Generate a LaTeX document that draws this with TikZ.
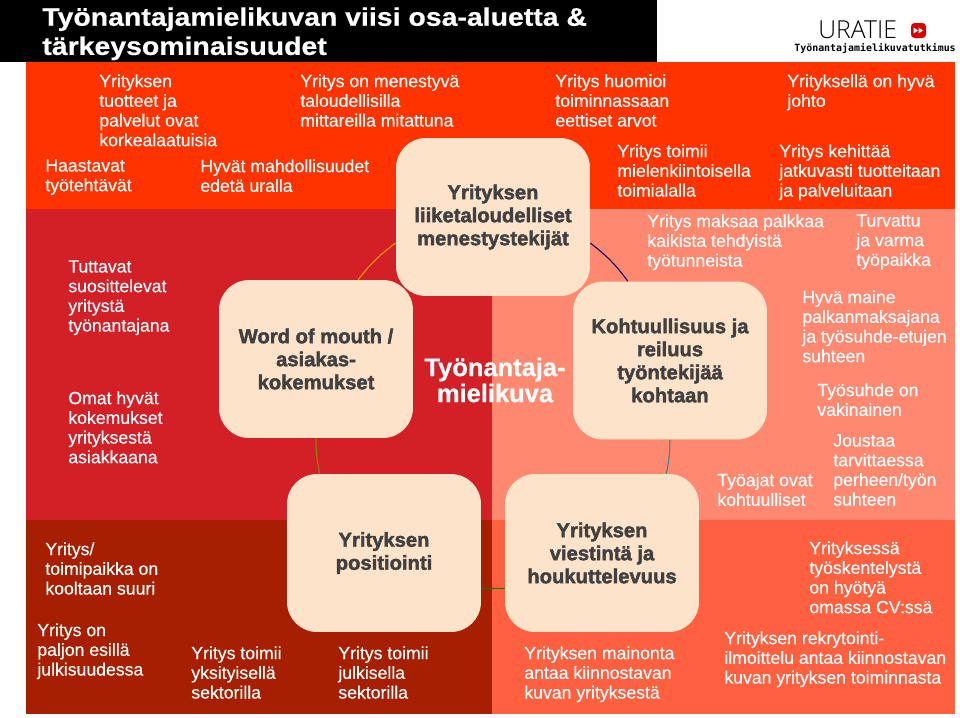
\documentclass[tikz,border=0pt]{standalone}
\usepackage{fontspec}
\setmainfont[FakeBold=0.25]{Liberation Sans}
\newfontfamily\boxfont[UprightFont=* Bold,FakeBold=2]{Liberation Sans}
\newfontfamily\corefont[UprightFont=* Bold,FakeBold=0.5]{Liberation Sans}
\newfontfamily\titlefont[UprightFont=* Bold,FakeBold=0.6,FakeStretch=1.12]{Liberation Sans}
\newfontfamily\logofont{DejaVu Sans Mono}
\newfontfamily\namefont{Open Sans Light}
\usepackage{xcolor}
\usetikzlibrary{positioning}

\definecolor{bandtop}{HTML}{FF3300}
\definecolor{bandleft}{HTML}{D32027}
\definecolor{bandright}{HTML}{FF8870}
\definecolor{bandlow}{HTML}{A61F00}
\definecolor{bandlowr}{HTML}{FF6040}
\definecolor{boxfill}{HTML}{FEE3CB}
\definecolor{boxtext}{HTML}{404040}

\tikzset{
  lbl/.style={anchor=north west, inner sep=0pt, align=left, text=white, font=\fontsize{10.05}{11.2}\selectfont},
  areabox/.style={draw=none, fill=boxfill, rounded corners=0.6cm, minimum width=3.88cm, minimum height=3.16cm,
    inner sep=0pt, align=center, text=boxtext, font=\boxfont\fontsize{11.5}{13.1}\selectfont},
  arc/.style={line width=0.6pt}
}

\begin{document}
\begin{tikzpicture}[x=0.02cm, y=-0.02cm]
  \useasboundingbox (0,0) rectangle (960,717);
  % Background
  \fill[white] (0,0) rectangle (960,717);
  \fill[bandtop] (26,62) rectangle (955,209);
  \fill[bandleft] (26,209) rectangle (492,520);
  \fill[bandright] (492,209) rectangle (955,520);
  \fill[bandlow] (26,520) rectangle (492,714);
  \fill[bandlowr] (492,520) rectangle (955,714);

  % Title
  \fill[black] (0,0) rectangle (657,62);
  \node[lbl, font=\titlefont\fontsize{14.45}{16.6}\selectfont] (title) at (42,7) {Työnantajamielikuvan viisi osa-aluetta \&\\tärkeysominaisuudet};

  % Logo
  \node[anchor=west, inner sep=0pt, font=\namefont\fontsize{14.1}{15}\selectfont, text=black] (logoname) at (818,30) {URATIE};
  \node[fill=red!85!black, rounded corners=0.07cm, minimum width=0.3cm, minimum height=0.3cm, inner sep=0pt] (logomark) at (918.5,30.5) {};
  \fill[white] (913.5,27.5) -- (918,30.5) -- (913.5,33.5) -- cycle;
  \fill[white] (918.5,27.5) -- (923,30.5) -- (918.5,33.5) -- cycle;
  \node[anchor=west, inner sep=0pt, font=\logofont\bfseries\fontsize{5.65}{7}\selectfont, text=black] (logotext) at (794,48) {Työnantajamielikuvatutkimus};

  % Area boxes
  \node[areabox] (fin) at (493,217) {Yrityksen\\liiketaloudelliset\\menestystekijät};
  \node[areabox] (wom) at (316,359) {Word of mouth /\\asiakas-\\kokemukset};
  \node[areabox] (fair) at (670,360.5) {Kohtuullisuus ja\\reiluus\\työntekijää\\kohtaan};
  \node[areabox] (pos) at (384,553) {Yrityksen\\positiointi};
  \node[areabox] (comm) at (602,553) {Yrityksen\\viestintä ja\\houkuttelevuus};
  \node[inner sep=0pt, align=center, text=white, font=\corefont\fontsize{14.5}{14.8}\selectfont] (core) at (495,380) {Työnantaja-\\mielikuva};

  % Connectors
  \draw[arc, color=orange!80!yellow] (fin.195) to[bend right=8] (wom.62);
  \draw[arc, color=blue!40!black] (fin.-15) to[bend left=8] (fair.118);
  \draw[arc, color=olive] (wom.-90) to[bend right=6] (pos.129);
  \draw[arc, color=green!50!black] (pos.-20) -- (comm.200);
  \draw[arc, color=teal!50!gray] (fair.-90) to[bend left=6] (comm.51);

  % Top band
  \node[lbl] (quality) at (99,74) {Yrityksen\\tuotteet ja\\palvelut ovat\\korkealaatuisia};
  \node[lbl] (profit) at (300,74) {Yritys on menestyvä\\taloudellisilla\\mittareilla mitattuna};
  \node[lbl] (ethics) at (555,74) {Yritys huomioi\\toiminnassaan\\eettiset arvot};
  \node[lbl] (lead) at (787,74) {Yrityksellä on hyvä\\johto};
  \node[lbl] (field) at (617,144) {Yritys toimii\\mielenkiintoisella\\toimialalla};
  \node[lbl] (develop) at (779,144) {Yritys kehittää\\jatkuvasti tuotteitaan\\ja palveluitaan};
  \node[lbl] (tasks) at (45,159) {Haastavat\\työtehtävät};
  \node[lbl] (career) at (200,159) {Hyvät mahdollisuudet\\edetä uralla};

  % Left band
  \node[lbl] (friends) at (68,260) {Tuttavat\\suosittelevat\\yritystä\\työnantajana};
  \node[lbl] (customer) at (68,391) {Omat hyvät\\kokemukset\\yrityksestä\\asiakkaana};

  % Right band
  \node[lbl] (pay) at (647,214) {Yritys maksaa palkkaa\\kaikista tehdyistä\\työtunneista};
  \node[lbl] (safe) at (856,214) {Turvattu\\ja varma\\työpaikka};
  \node[lbl] (fame) at (802,290) {Hyvä maine\\palkanmaksajana\\ja työsuhde-etujen\\suhteen};
  \node[lbl] (perm) at (817,383) {Työsuhde on\\vakinainen};
  \node[lbl] (flex) at (833,434) {Joustaa\\tarvittaessa\\perheen/työn\\suhteen};
  \node[lbl] (hours) at (717,473) {Työajat ovat\\kohtuulliset};

  % Low bands
  \node[lbl] (size) at (45,542) {Yritys/\\toimipaikka on\\kooltaan suuri};
  \node[lbl] (media) at (37,623) {Yritys on\\paljon esillä\\julkisuudessa};
  \node[lbl] (private) at (191,646) {Yritys toimii\\yksityisellä\\sektorilla};
  \node[lbl] (public) at (338,646) {Yritys toimii\\julkisella\\sektorilla};
  \node[lbl] (ads) at (524,646) {Yrityksen mainonta\\antaa kiinnostavan\\kuvan yrityksestä};
  \node[lbl] (cv) at (809,541) {Yrityksessä\\työskentelystä\\on hyötyä\\omassa CV:ssä};
  \node[lbl] (recruit) at (724,631) {Yrityksen rekrytointi-\\ilmoittelu antaa kiinnostavan\\kuvan yrityksen toiminnasta};
\end{tikzpicture}
\end{document}
